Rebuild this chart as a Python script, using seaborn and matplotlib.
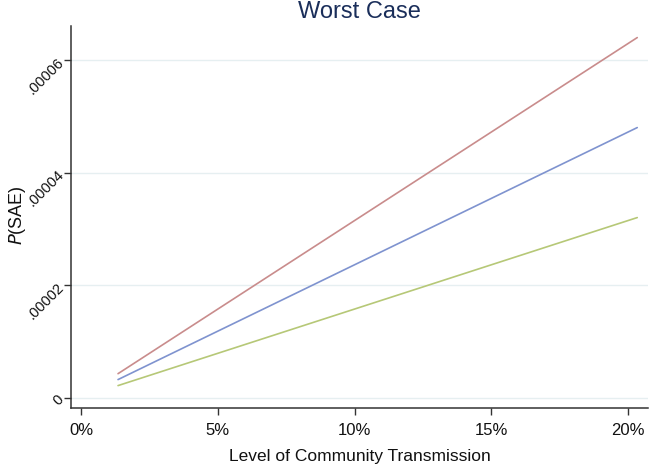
"""
plot.py
-------
Worst-case P(SAE) against the level of community transmission,
three scenarios drawn as straight lines (Stata-like look).
"""

import numpy as np
import pandas as pd
import matplotlib
matplotlib.use("Agg")
import matplotlib.pyplot as plt
import seaborn as sns
from matplotlib.ticker import PercentFormatter

# ── data ──────────────────────────────────────────────────────────────────
transmission = [0.0135, 0.2033]
p_sae_high   = [0.00000425, 0.0000640]
p_sae_mid    = [0.00000320, 0.0000480]
p_sae_low    = [0.00000213, 0.0000320]
series_names = ['high', 'mid', 'low']
series_colors = ['#c98c8c', '#7f93cf', '#b6c877']

x_ticks = [0, 0.05, 0.10, 0.15, 0.20]
y_ticks = [0, 0.00002, 0.00004, 0.00006]
y_tick_labels = ['0', '.00002', '.00004', '.00006']

# ── long table for seaborn ────────────────────────────────────────────────
df = pd.concat([
    pd.DataFrame({'x': transmission, 'p': vals, 'scenario': name})
    for name, vals in zip(series_names, [p_sae_high, p_sae_mid, p_sae_low])
], ignore_index=True)

sns.set_style('white')
plt.rcParams['font.family'] = ['Liberation Sans', 'DejaVu Sans']

fig = plt.figure(figsize=(6.5, 4.66), dpi=100)
ax = fig.add_axes([0.1092, 0.1245, 0.888, 0.819])

sns.lineplot(data=df, x='x', y='p', hue='scenario',
             palette=dict(zip(series_names, series_colors)),
             linewidth=1.2, legend=False, ax=ax)

ax.set_xlim(-0.0037, 0.2073)
ax.set_ylim(-0.00000185, 0.0000660)

ax.set_xticks(x_ticks)
ax.xaxis.set_major_formatter(PercentFormatter(xmax=1, decimals=0))
ax.set_yticks(y_ticks)
ax.set_yticklabels(y_tick_labels, rotation=45, ha='right', va='center',
                   rotation_mode='anchor')

ax.tick_params(axis='both', which='major', length=5, width=1,
               color='#333333', labelsize=12, labelcolor='#111111',
               bottom=True, left=True)
ax.tick_params(axis='y', labelsize=10.5, pad=2)
ax.tick_params(axis='x', pad=6)

# light horizontal grid only
ax.grid(axis='y', color='#e6eff1', linewidth=1)
ax.grid(axis='x', visible=False)
ax.set_axisbelow(True)

for side in ['top', 'right']:
    ax.spines[side].set_visible(False)
for side in ['left', 'bottom']:
    ax.spines[side].set_color('#333333')
    ax.spines[side].set_linewidth(1.1)

ax.set_xlabel('Level of Community Transmission', fontsize=12.5,
              color='#111111', labelpad=8)
ax.set_ylabel('$\\it{P}$(SAE)', fontsize=13, color='#111111')
ax.yaxis.set_label_coords(-0.074, 0.505)
ax.set_title('Worst Case', fontsize=17, color='#1a2e5a', pad=6)

fig.savefig('out.png', dpi=100)
plt.close(fig)
